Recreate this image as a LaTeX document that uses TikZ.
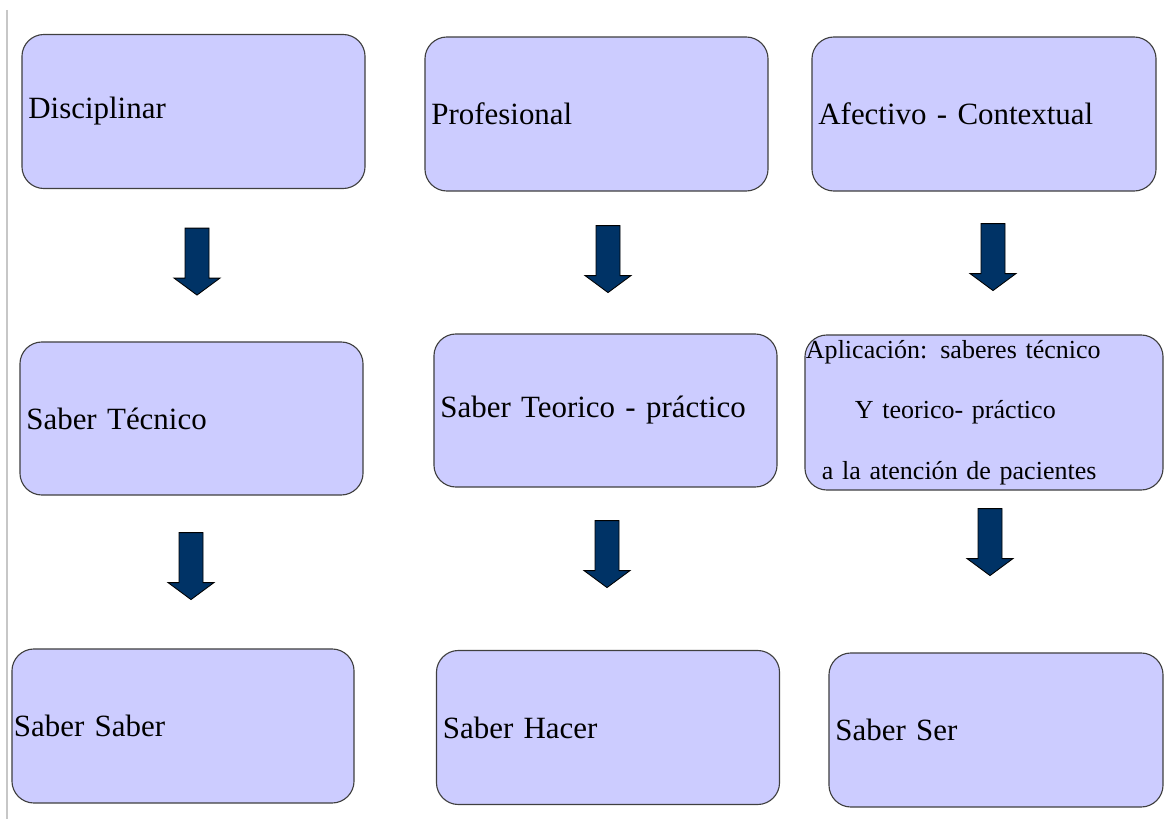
\documentclass[tikz,border=0pt]{standalone}
\usepackage{fontspec}
\setmainfont{Liberation Serif}
\usetikzlibrary{calc}

\definecolor{lila}{RGB}{204,204,255}
\definecolor{azul}{RGB}{0,51,102}

\begin{document}
\begin{tikzpicture}[x=0.025cm, y=-0.025cm, line width=0.8pt,
    caja/.style={draw=black!75, fill=lila, rounded corners=0.55cm,
        minimum width=8.575cm, minimum height=3.85cm, text width=8.255cm,
        inner xsep=0.16cm, align=left, font=\fontsize{22}{26}\selectfont},
    flecha/.style={draw=black, fill=azul, line width=0.6pt}]
    \useasboundingbox (0,0) rectangle (1164,819);

    % linea gris del margen
    \draw[black!22, line width=1.2pt] (7,10) -- (7,819);

    % Fila 1
    \node[caja] (disc) at (193.5,111.5) {Disciplinar};
    \node[caja] (prof) at (596.5,114) {Profesional};
    \node[caja, minimum width=8.6cm, text width=8.28cm] (afec) at (984,114) {Afectivo - Contextual};

    % Fila 2
    \node[caja, minimum height=3.825cm] (tecn) at (191.5,418.5) {Saber Técnico};
    \node[caja, minimum height=3.825cm] (teor) at (605.5,410.5) {Saber Teorico - práctico};
    \node[caja, minimum width=8.95cm, minimum height=3.875cm, text width=8.9cm,
        inner xsep=0.025cm, inner ysep=0pt, font=\fontsize{18.5}{22}\selectfont]
        (apli) at (984,412.5) {Aplicación: saberes técnico\\[21pt]
        \hspace*{1.225cm}Y teorico- práctico\\[21pt]
        \hspace*{0.4cm}a la atención de pacientes};

    % Fila 3
    \node[caja, minimum width=8.55cm, text width=8.45cm, inner xsep=0.05cm] (ssab) at (183,726) {Saber Saber};
    \node[caja] (shac) at (608,727.5) {Saber Hacer};
    \node[caja, minimum width=8.35cm, text width=8.03cm] (sser) at (996,730) {Saber Ser};

    % Flechas hacia abajo
    \foreach \src/\dx/\dy in {disc/3.5/39, prof/11.5/34, afec/9/32,
                              tecn/-0.5/37, teor/1.5/33, apli/6/18}
        \draw[flecha] ($(\src.south)+(\dx,\dy)$) ++(-12,0) -- ++(24,0) -- ++(0,50)
            -- ++(11,0) -- ++(-23,17) -- ++(-23,-17) -- ++(11,0) -- cycle;

\end{tikzpicture}
\end{document}
